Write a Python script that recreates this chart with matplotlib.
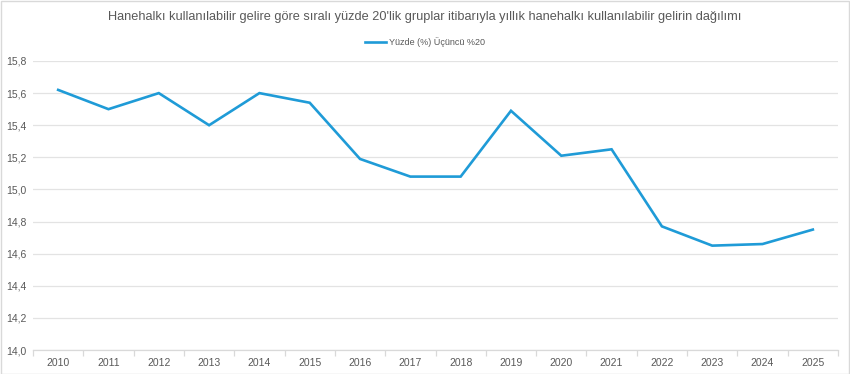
import matplotlib.pyplot as plt
from matplotlib.patches import Rectangle
from matplotlib.ticker import FuncFormatter, FixedLocator
import numpy as np

years = [str(y) for y in range(2010, 2026)]
values = [15.62, 15.50, 15.60, 15.40, 15.60, 15.54, 15.19, 15.08,
          15.08, 15.49, 15.21, 15.25, 14.77, 14.65, 14.66, 14.75]
series_name = "Yüzde (%) Üçüncü %20"
title = "Hanehalkı kullanılabilir gelire göre sıralı yüzde 20'lik gruplar itibarıyla yıllık hanehalkı kullanılabilir gelirin dağılımı"
y_ticks = [14.0, 14.2, 14.4, 14.6, 14.8, 15.0, 15.2, 15.4, 15.6, 15.8]

plt.rcParams['font.family'] = ['Liberation Sans', 'DejaVu Sans']

fig = plt.figure(figsize=(8.5, 3.74), dpi=100)
ax = fig.add_axes([33 / 850, 1 - 350 / 374, (838 - 33) / 850, (350 - 61) / 374])

x = np.arange(len(years))
ax.plot(x, values, color='#1F9BD7', lw=1.9, label=series_name,
        solid_joinstyle='miter')

ax.set_xlim(-0.5, len(years) - 0.5)
ax.set_ylim(14.0, 15.8)
ax.set_yticks(y_ticks)
ax.yaxis.set_major_formatter(FuncFormatter(lambda v, p: f"{v:.1f}".replace('.', ',')))
ax.set_xticks(x)
ax.set_xticklabels(years)
ax.xaxis.set_minor_locator(FixedLocator(np.arange(-0.5, len(years), 1)))

ax.grid(axis='y', color='#E3E3E3', lw=0.9)
ax.set_axisbelow(True)
for s in ['top', 'right', 'left']:
    ax.spines[s].set_visible(False)
ax.spines['bottom'].set_color('#D9D9D9')
ax.spines['bottom'].set_linewidth(0.9)

ax.tick_params(axis='y', length=0, pad=19, labelsize=7.5, labelcolor='#595959')
ax.tick_params(axis='x', which='major', length=0, pad=6, labelsize=7.5, labelcolor='#595959')
ax.tick_params(axis='x', which='minor', length=4, color='#D9D9D9', width=0.9)
for lbl in ax.get_yticklabels():
    lbl.set_horizontalalignment('left')

fig.text(0.5, 1 - 17 / 374, title, ha='center', va='center',
         fontsize=9.2, color='#595959')
fig.legend(loc='center', bbox_to_anchor=(0.5, 1 - 42 / 374), frameon=False,
           fontsize=6.5, labelcolor='#595959', handlelength=2.4, handletextpad=0.3)

fig.add_artist(Rectangle((0.5 / 850, 0.5 / 374), 1 - 1.5 / 850, 1 - 1.5 / 374,
                         transform=fig.transFigure, fill=False,
                         edgecolor='#D9D9D9', lw=1))

fig.savefig('out.png', dpi=100)
